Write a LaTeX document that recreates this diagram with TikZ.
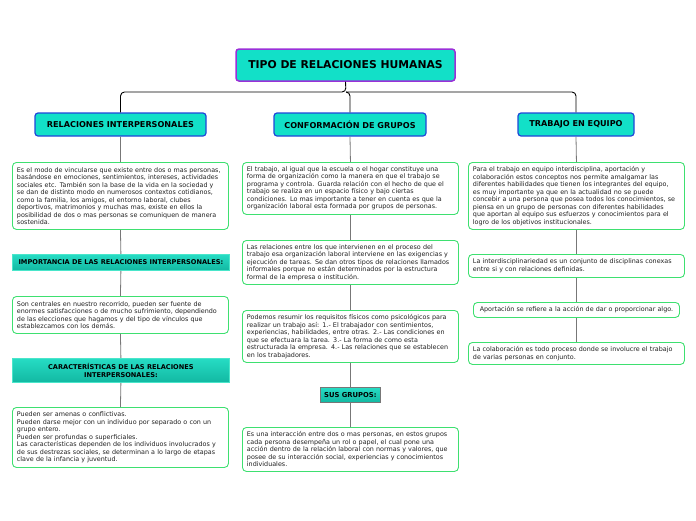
\documentclass[tikz,border=0pt]{standalone}
\usepackage{fontspec}
\setmainfont{DejaVu Sans}
\usetikzlibrary{positioning}
\definecolor{turq}{HTML}{12E0C8}
\definecolor{purp}{HTML}{9B30D8}
\definecolor{blueb}{HTML}{2046D8}
\definecolor{greenb}{HTML}{3EE070}
\definecolor{hdtop}{HTML}{26DCC4}
\definecolor{hdbot}{HTML}{12B8A2}
\definecolor{hdborder}{HTML}{4AE6CA}
\definecolor{conn}{HTML}{777777}
\definecolor{txt}{HTML}{222222}
\tikzset{
  titlebox/.style={draw=purp, line width=1.5pt, fill=turq, rounded corners=3pt,
    font=\fontsize{10.8}{12}\selectfont\bfseries, minimum width=219pt, minimum height=32pt, inner sep=0pt},
  lvlbox/.style={draw=blueb, line width=1.2pt, fill=turq, rounded corners=3pt,
    font=\fontsize{8.1}{9}\selectfont\bfseries, minimum height=23pt, inner sep=0pt},
  txtbox/.style={draw=greenb, line width=0.9pt, fill=white, rounded corners=4pt, text=txt,
    font=\fontsize{6.4}{7.5}\selectfont, align=left, text width=#1, inner xsep=4.5pt, inner ysep=0pt, anchor=north west},
  txtbox/.default=207pt,
  hdbox/.style={draw=hdborder, line width=0.8pt, top color=hdtop, bottom color=hdbot,
    font=\fontsize{6.6}{7.6}\selectfont\bfseries, align=center, inner sep=0pt, anchor=north west},
  sgbox/.style={draw=conn, line width=0.8pt, top color=hdtop, bottom color=hdbot,
    font=\fontsize{6.8}{7.6}\selectfont\bfseries, inner sep=0pt, anchor=north west},
  blk/.style={draw=black, line width=0.9pt, rounded corners=4pt},
  gl/.style={draw=conn, line width=0.8pt}
}
\begin{document}
\begin{tikzpicture}[x=1pt,y=-1pt]
\useasboundingbox (0,0) rectangle (696,520);
\node[titlebox] (title) at (345.5,65) {TIPO DE RELACIONES HUMANAS};
\node[lvlbox, minimum width=171pt] (ri) at (120.5,124.5) {RELACIONES INTERPERSONALES};
\node[lvlbox, minimum width=152pt] (cg) at (350,124.5) {CONFORMACIÓN DE GRUPOS};
\node[lvlbox, minimum width=116pt] (te) at (576,124.5) {TRABAJO EN EQUIPO};
\coordinate (hub) at (346,92);
\draw[blk] (title.south) -- (hub) -| (ri.north);
\draw[blk] (hub) -| (cg.north);
\draw[blk] (hub) -| (te.north);

% column 1
\node[txtbox, minimum width=216pt, minimum height=67pt] (a1) at (12,162) {Es el modo de vincularse que existe entre dos o mas personas,\\basándose en emociones, sentimientos, intereses, actividades\\sociales etc. También son la base de la vida en la sociedad y\\se dan de distinto modo en numerosos contextos cotidianos,\\como la familia, los amigos, el entorno laboral, clubes\\deportivos, matrimonios y muchas mas, existe en ellos la\\posibilidad de dos o mas personas se comuniquen de manera\\sostenida.};
\node[hdbox, minimum width=217pt, minimum height=16pt] (a2) at (12,254) {IMPORTANCIA DE LAS RELACIONES INTERPERSONALES:};
\node[txtbox, minimum width=216pt, minimum height=37pt] (a3) at (12,296) {Son centrales en nuestro recorrido, pueden ser fuente de\\enormes satisfacciones o de mucho sufrimiento, dependiendo\\de las elecciones que hagamos y del tipo de vínculos que\\establezcamos con los demás.};
\node[hdbox, minimum width=217pt, minimum height=24pt] (a4) at (12,358) {CARACTERÍSTICAS DE LAS RELACIONES\\INTERPERSONALES:};
\node[txtbox, minimum width=216pt, minimum height=60pt] (a5) at (12,407) {Pueden ser amenas o conflictivas.\\Pueden darse mejor con un individuo por separado o con un\\grupo entero.\\Pueden ser profundas o superficiales.\\Las características dependen de los individuos involucrados y\\de sus destrezas sociales, se determinan a lo largo de etapas\\clave de la infancia y juventud.};
\draw[gl] (ri.south) -- (a1.north);
\draw[gl] (a1.south) -- (a2.north);
\draw[gl] (a2.south) -- (a3.north);
\draw[gl] (a3.south) -- (a4.north);
\draw[gl] (a4.south) -- (a5.north);

% column 2
\node[txtbox, minimum width=216pt, minimum height=52pt] (b1) at (242,162) {El trabajo, al igual que la escuela o el hogar constituye una\\forma de organización como la manera en que el trabajo se\\programa y controla. Guarda relación con el hecho de que el\\trabajo se realiza en un espacio físico y bajo ciertas\\condiciones. Lo mas importante a tener en cuenta es que la\\organización laboral esta formada por grupos de personas.};
\node[txtbox, minimum width=216pt, minimum height=44pt] (b2) at (242,240) {Las relaciones entre los que intervienen en el proceso del\\trabajo esa organización laboral interviene en las exigencias y\\ejecución de tareas. Se dan otros tipos de relaciones llamados\\informales porque no están determinados por la estructura\\formal de la empresa o institución.};
\node[txtbox, minimum width=216pt, minimum height=52pt] (b3) at (242,310) {Podemos resumir los requisitos físicos como psicológicos para\\realizar un trabajo así: 1.- El trabajador con sentimientos,\\experiencias, habilidades, entre otras. 2.- Las condiciones en\\que se efectuara la tarea. 3.- La forma de como esta\\estructurada la empresa. 4.- Las relaciones que se establecen\\en los trabajadores.};
\node[sgbox, minimum width=60pt, minimum height=15pt] (b4) at (320,387) {SUS GRUPOS:};
\node[txtbox, minimum width=216pt, minimum height=44pt] (b5) at (242,427) {Es una interacción entre dos o mas personas, en estos grupos\\cada persona desempeña un rol o papel, el cual pone una\\acción dentro de la relación laboral con normas y valores, que\\posee de su interacción social, experiencias y conocimientos\\individuales.};
\draw[gl] (cg.south) -- (b1.north);
\draw[gl] (b1.south) -- (b2.north);
\draw[gl] (b2.south) -- (b3.north);
\draw[gl] (b3.south) -- (b4.north);
\draw[gl] (b4.south) -- (b5.north);

% column 3
\node[txtbox, minimum width=216pt, minimum height=67pt] (c1) at (468,162) {Para el trabajo en equipo interdisciplina, aportación y\\colaboración estos conceptos nos permite amalgamar las\\diferentes habilidades que tienen los integrantes del equipo,\\es muy importante ya que en la actualidad no se puede\\concebir a una persona que posea todos los conocimientos, se\\piensa en un grupo de personas con diferentes habilidades\\que aportan al equipo sus esfuerzos y conocimientos para el\\logro de los objetivos institucionales.};
\node[txtbox, minimum width=216pt, minimum height=23pt] (c2) at (468,254) {La interdisciplinariedad es un conjunto de disciplinas conexas\\entre si y con relaciones definidas.};
\node[txtbox=197pt, minimum width=206pt, minimum height=15pt, align=center] (c3) at (473,302) {Aportación se refiere a la acción de dar o proporcionar algo.};
\node[txtbox, minimum width=216pt, minimum height=22pt] (c4) at (468,342) {La colaboración es todo proceso donde se involucre el trabajo\\de varias personas en conjunto.};
\draw[gl] (te.south) -- (c1.north);
\draw[gl] (c1.south) -- (c2.north);
\draw[gl] (c2.south) -- (c3.north);
\draw[gl] (c3.south) -- (c4.north);
\end{tikzpicture}
\end{document}
